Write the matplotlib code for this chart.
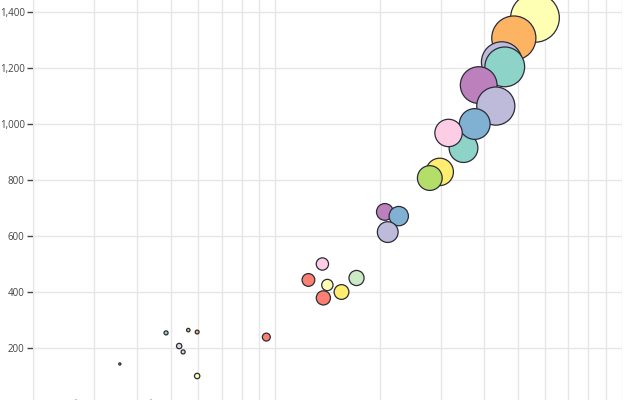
import numpy as np
import matplotlib
matplotlib.use("Agg")
import matplotlib.pyplot as plt
from matplotlib.ticker import FuncFormatter, LogLocator, NullFormatter

# income per person (log x), value (y), population (bubble area)
income = [5610, 4875, 4500, 4590, 3860, 4325, 3490, 3760, 3160, 2980, 2790,
          2070, 2270, 2110, 1367, 1246, 1715, 1376, 1413, 1552,
          942, 484, 561, 595, 528, 542, 356, 595,
          266, 359, 438, 525]
value = [1379, 1307, 1221, 1204, 1139, 1064, 914, 1000, 968, 829, 807,
         686, 671, 614, 500, 443, 450, 379, 425, 400,
         239, 254, 264, 257, 207, 186, 143, 100,
         6, 5, 6, 5]
pop = [1250, 1030, 880, 840, 720, 775, 450, 512, 410, 410, 338,
       162, 212, 242, 92, 98, 134, 119, 79, 128,
       42, 14, 11, 13, 22, 14, 6, 22,
       14, 10, 14, 10]
colors = ["#ffffb3", "#fdb462", "#bebada", "#8dd3c7", "#bc80bd", "#bebada",
          "#8dd3c7", "#80b1d3", "#fccde5", "#ffed6f", "#b3de69",
          "#bc80bd", "#80b1d3", "#bebada", "#fccde5", "#fb8072", "#ccebc5",
          "#fb8072", "#ffffb3", "#ffed6f",
          "#fb8072", "#8dd3c7", "#b3de69", "#fdb462", "#d9d9d9", "#d9d9d9",
          "#d9d9d9", "#ffffb3",
          "#bc80bd", "#d9d9d9", "#d9d9d9", "#ccebc5"]
y_ticks = [200, 400, 600, 800, 1000, 1200, 1400]

plt.rcParams['font.family'] = ['Open Sans', 'DejaVu Sans']

fig = plt.figure(figsize=(6.4, 4.0), dpi=100)
ax = fig.add_axes([33 / 640, 0, (622 - 33) / 640, 1])

# bubble radius in px from population, then to points^2
lw = 0.9
r_px = np.sqrt(np.array(pop) / 2.0)
sizes = (2 * r_px * 0.72 - lw) ** 2
ax.scatter(income, value, s=sizes, c=colors, edgecolors="#2b2b38",
           linewidths=lw, zorder=3)

ax.set_xscale("log")
ax.set_xlim(200, 10000)
ax.set_ylim((404 - 400) / 0.28, 404 / 0.28)

ax.xaxis.set_minor_locator(LogLocator(base=10, subs=np.arange(2, 10)))
ax.xaxis.set_minor_formatter(NullFormatter())
ax.xaxis.set_major_formatter(NullFormatter())
ax.tick_params(axis="x", which="both", length=0)
ax.grid(True, axis="x", which="both", color="#e6e6e6", linewidth=1)

ax.set_yticks(y_ticks)
ax.yaxis.set_major_formatter(FuncFormatter(lambda v, p: f"{int(v):,}"))
ax.grid(True, axis="y", color="#e6e6e6", linewidth=1)
ax.tick_params(axis="y", length=4.5, width=1, color="#444444", pad=1.5,
               labelsize=7, labelcolor="#444444")
ax.set_axisbelow(True)

for s in ["top", "right", "bottom"]:
    ax.spines[s].set_visible(False)
ax.spines["left"].set_color("#e6e6e6")

fig.savefig("out.png", dpi=100)
